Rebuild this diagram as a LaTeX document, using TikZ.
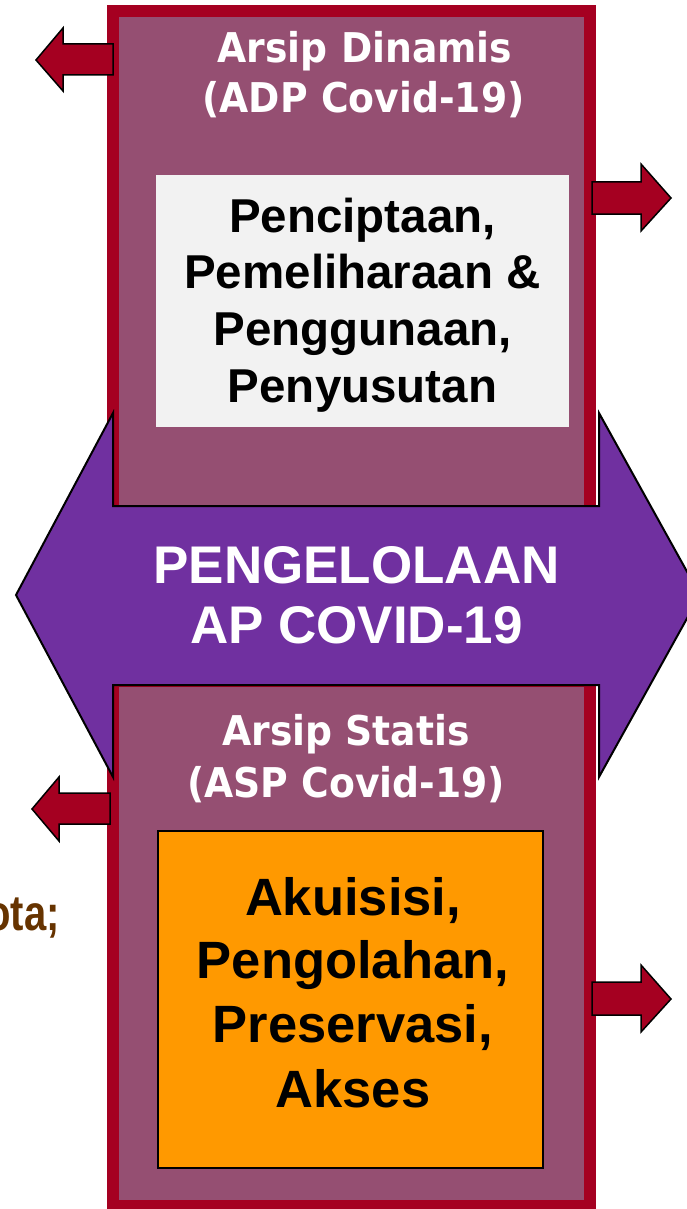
\documentclass[tikz,border=0pt]{standalone}
\usepackage{fontspec}
\setmainfont{Liberation Sans}
\newfontfamily\headfont{DejaVu Sans}[FakeStretch=0.92]
\newfontfamily\narrowfont{Liberation Sans}[FakeStretch=0.8]
\definecolor{framered}{HTML}{A50021}
\definecolor{boxplum}{HTML}{954F72}
\definecolor{bandviolet}{HTML}{7030A0}
\definecolor{paleface}{HTML}{F2F2F2}
\definecolor{amber}{HTML}{FF9900}
\definecolor{rust}{HTML}{663300}
\tikzset{
  panel/.style={draw=framered, fill=boxplum, line width=12pt},
  pointer/.style={draw=black, fill=framered, line width=1.5pt, line join=miter},
  band/.style={draw=black, fill=bandviolet, line width=2pt, line join=miter},
  heading/.style={anchor=base, inner sep=0pt, text=white, font=\headfont\bfseries\fontsize{41}{50}\selectfont},
  bigtitle/.style={anchor=base, inner sep=0pt, text=white, font=\bfseries\fontsize{53}{62}\selectfont},
  listtext/.style={anchor=base, inner sep=0pt, text=black, font=\bfseries\fontsize{47.5}{57}\selectfont},
  ordertext/.style={anchor=base, inner sep=0pt, text=black, font=\bfseries\fontsize{52.5}{64}\selectfont},
}
\begin{document}
\begin{tikzpicture}[x=1pt, y=-1pt]
\useasboundingbox (0,0) rectangle (687,1209);
\clip (0,0) rectangle (687,1209);

% two stacked archive panels
\draw[panel] (113,11) rectangle (590,520);
\draw[panel] (113,681) rectangle (590,1206);

% inner content boxes
\fill[paleface] (156,175) rectangle (569,427);
\draw[fill=amber, draw=black, line width=1.2pt] (158,831) rectangle (543,1168);

% wide double-headed band across the middle
\draw[band] (16,595) -- (113,413) -- (113,506) -- (599,506) -- (599,413)
  -- (700,595) -- (599,777) -- (599,685) -- (113,685) -- (113,777) -- cycle;

% small block arrows
\draw[pointer] (113,44) -- (63,44) -- (63,28) -- (36,60) -- (63,91) -- (63,75) -- (113,75) -- cycle;
\draw[pointer] (592,182) -- (641,182) -- (641,164) -- (671,198) -- (641,231) -- (641,214) -- (592,214) -- cycle;
\draw[pointer] (110,793) -- (59,793) -- (59,777) -- (32,809) -- (59,841) -- (59,824) -- (110,824) -- cycle;
\draw[pointer] (592,982) -- (641,982) -- (641,965) -- (671,999) -- (641,1032) -- (641,1015) -- (592,1015) -- cycle;

% upper panel texts
\node[heading] (dyn1) at (365,63) {Arsip Dinamis};
\node[heading] (dyn2) at (363.5,113) {(ADP Covid-19)};
\node[listtext] (l1) at (362.5,232) {Penciptaan,};
\node[listtext] (l2) at (362.5,288) {Pemeliharaan \&};
\node[listtext] (l3) at (362.5,345) {Penggunaan,};
\node[listtext] (l4) at (362.5,402) {Penyusutan};

% band title
\node[bigtitle] (t1) at (356.5,583) {PENGELOLAAN};
\node[bigtitle] (t2) at (356.5,643) {AP COVID-19};

% lower panel texts
\node[heading] (st1) at (346,745) {Arsip Statis};
\node[heading] (st2) at (346,797) {(ASP Covid-19)};
\node[ordertext] (o1) at (353,915) {Akuisisi,};
\node[ordertext] (o2) at (353,978) {Pengolahan,};
\node[ordertext] (o3) at (353,1042) {Preservasi,};
\node[ordertext] (o4) at (353,1107) {Akses};

% side note
\node[anchor=base east, inner sep=0pt, text=rust, font=\narrowfont\bfseries\fontsize{50}{60}\selectfont] (side) at (60,930) {ota;};
\end{tikzpicture}
\end{document}
